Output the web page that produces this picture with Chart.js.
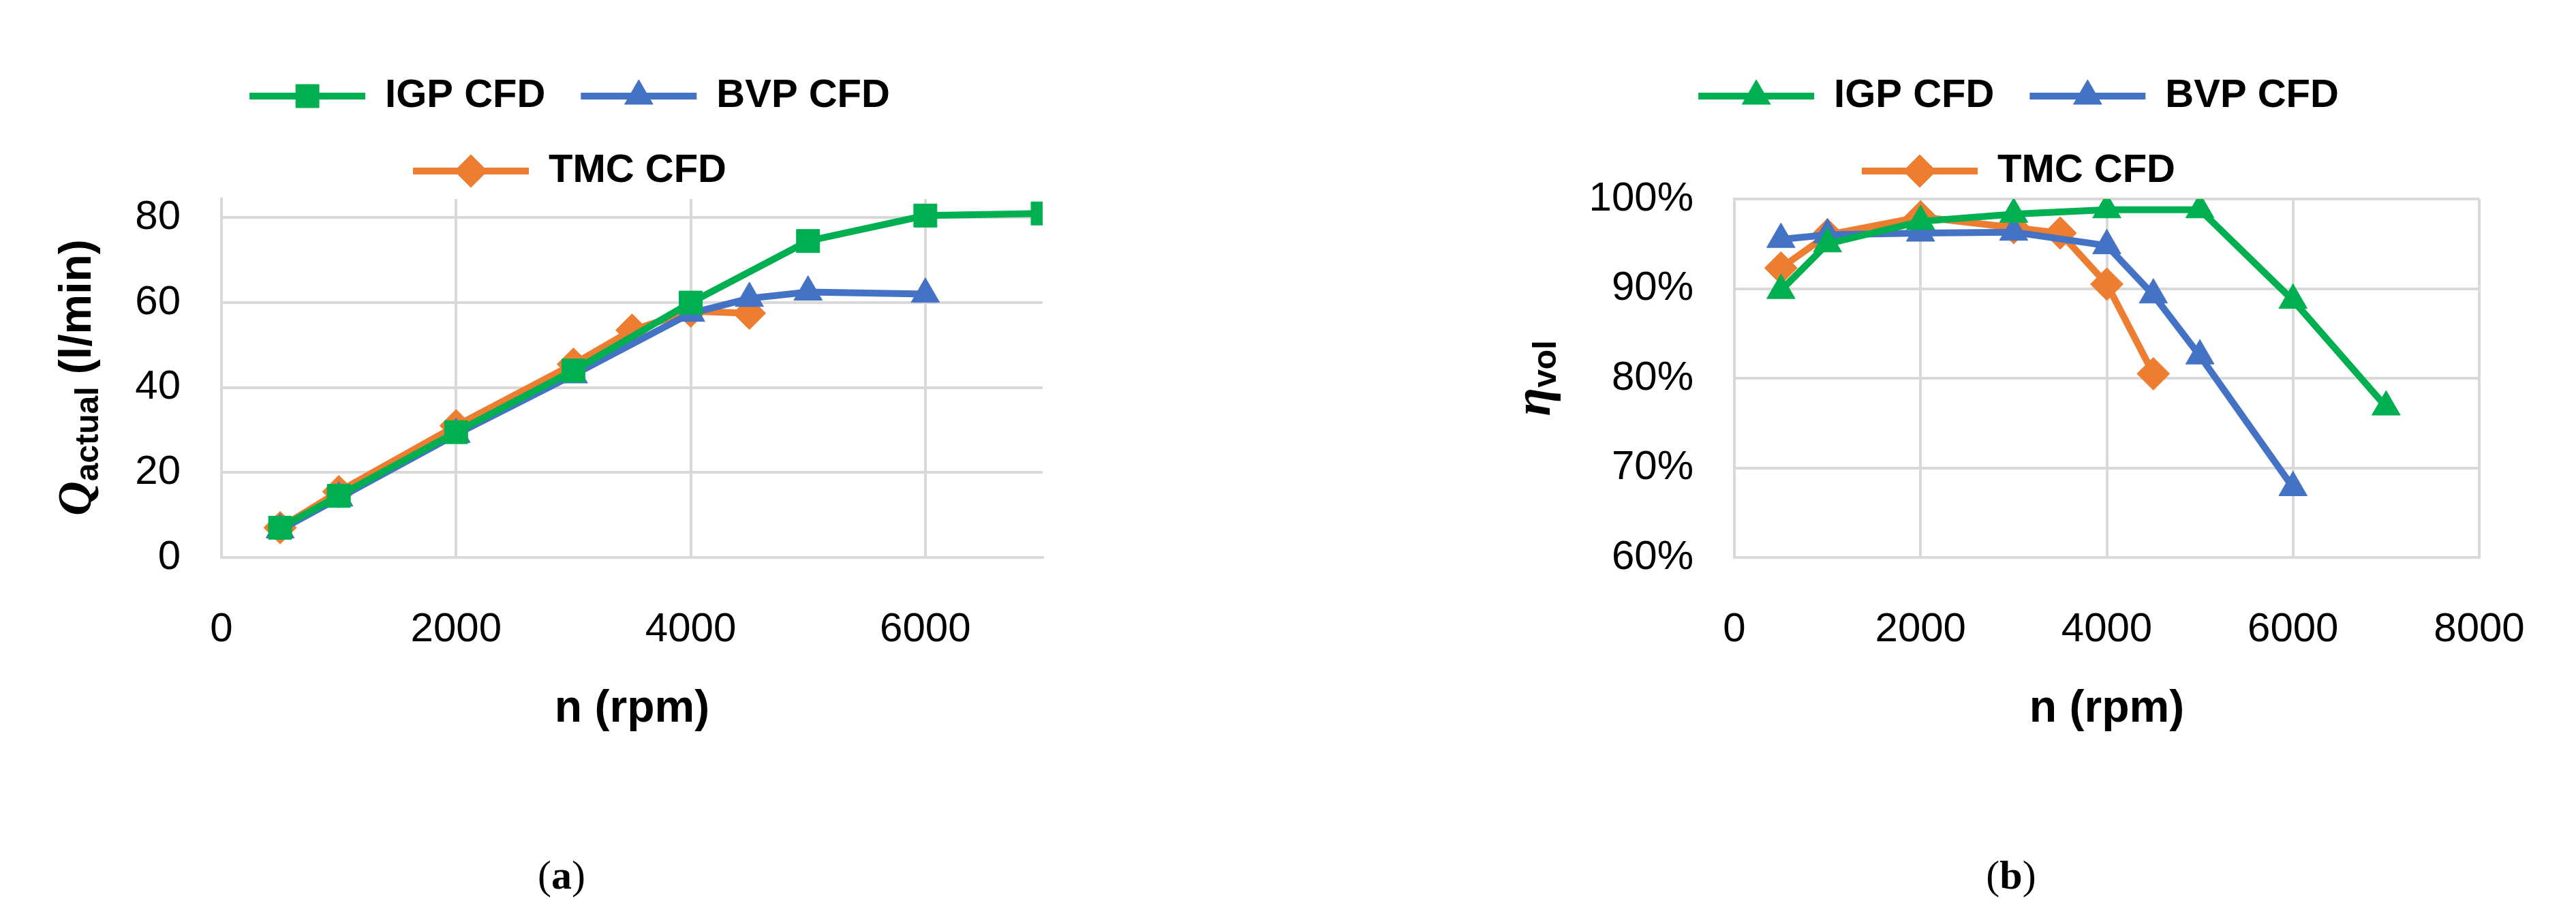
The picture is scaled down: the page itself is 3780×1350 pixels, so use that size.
<!DOCTYPE html>
<html><head><meta charset="utf-8">
<script src="https://cdn.jsdelivr.net/npm/chart.js@4.4.1/dist/chart.umd.min.js"></script>
<style>
body{margin:0;width:3780px;height:1350px;background:#fff;position:relative;overflow:hidden}
canvas{position:absolute;top:0}
.cap{position:absolute;top:1250px;font:60px "Liberation Serif","DejaVu Serif",serif;transform:translateX(-50%)}
</style></head><body>
<div id="wa" style="position:absolute;left:0;top:0;width:1672px;height:1150px"><canvas id="ca"></canvas></div>
<div id="wb" style="position:absolute;left:2144px;top:0;width:1636px;height:1150px"><canvas id="cb"></canvas></div>
<div class="cap" style="left:824px">(<b>a</b>)</div>
<div class="cap" style="left:2951px">(<b>b</b>)</div>
<script>
const seriesNames = ['IGP CFD','BVP CFD','TMC CFD'];
const colors = ['#00B050','#4472C4','#ED7D31'];

// (a) flow rate, l/min
const igpFlowRpm = [500,1000,2000,3000,4000,5000,6000,7000];
const igpFlow    = [7,14.5,29.5,44,60,74.5,80.5,81];
const bvpFlowRpm = [500,1000,2000,3000,4000,4500,5000,6000];
const bvpFlow    = [6.5,14,29,43,57.5,61,62.5,62];
const tmcFlowRpm = [500,1000,2000,3000,3500,4000,4500];
const tmcFlow    = [7,15.5,31,45.5,53.5,58,57.5];

// (b) volumetric efficiency, %
const igpEffRpm = [500,1000,2000,3000,4000,5000,6000,7000];
const igpEff    = [89.8,95,97.5,98.3,98.8,98.8,88.7,76.8];
const bvpEffRpm = [500,1000,2000,3000,4000,4500,5000,6000];
const bvpEff    = [95.5,96,96.2,96.3,94.8,89.3,82.5,67.8];
const tmcEffRpm = [500,1000,2000,3000,3500,4000,4500];
const tmcEff    = [92.3,96,98,96.8,96.2,90.5,80.5];

const flowTicks = [0,20,40,60,80];
const flowRpmTicks = [0,2000,4000,6000];
const effTicks = [60,70,80,90,100];
const effRpmTicks = [0,2000,4000,6000,8000];

const FONT = '"Liberation Sans Narrow","Liberation Sans",Arial,sans-serif';
Chart.defaults.font.family = FONT;
Chart.defaults.color = '#000';

const LEGEND_DX = 71;

function pts(xs,ys){return xs.map((x,i)=>({x,y:ys[i]}))}
function ds(i,data,style,r){
  return {label:seriesNames[i],data,borderColor:colors[i],backgroundColor:colors[i],
    borderWidth:10,pointStyle:style,pointRadius:r,pointHoverRadius:r,pointBorderWidth:1,tension:0};
}

// legend markers + y title
const extras = {
  id:'extras',
  beforeInit(chart){
    const lg = chart.legend;
    const fit = lg.fit;
    lg.fit = function(){fit.call(this);this.height = 232;};
    const draw = lg.draw;
    lg.draw = function(){
      const c = this.chart.ctx;
      c.save();c.translate(LEGEND_DX,0);draw.call(this);c.restore();
    };
  },
  afterDraw(chart,args,opts){
    const ctx = chart.ctx;
    const lg = chart.legend;
    lg.legendHitBoxes.forEach((b,i)=>{
      const d = chart.data.datasets[i];
      ctx.save();
      ctx.fillStyle = d.borderColor;
      ctx.strokeStyle = d.borderColor;
      ctx.lineWidth = 1;
      Chart.helpers.drawPoint(ctx,{pointStyle:d.pointStyle,radius:d.pointRadius,borderWidth:1,rotation:0},
        b.left+LEGEND_DX+85,b.top+b.height/2);
      ctx.restore();
    });
    // y title
    ctx.save();
    ctx.translate(opts.x,opts.y);
    ctx.rotate(-Math.PI/2);
    ctx.fillStyle='#000';
    ctx.textBaseline='middle';
    let w=0;
    opts.parts.forEach(p=>{ctx.font=p.f;w+=ctx.measureText(p.t).width});
    let x=-w/2;
    opts.parts.forEach(p=>{ctx.font=p.f;ctx.fillText(p.t,x,p.dy||0);x+=ctx.measureText(p.t).width});
    ctx.restore();
  }
};
Chart.register(extras);

function baseOpts(xTicks,yTicks,xmax,ymin,ymax,yW,fmt,title){
  return {
    responsive:true,maintainAspectRatio:false,animation:false,
    layout:{padding:{top:60,right:142,bottom:0,left:0}},
    plugins:{
      legend:{display:true,position:'top',
        labels:{usePointStyle:true,pointStyle:'line',pointStyleWidth:170,boxHeight:52,padding:52,
          font:{size:58,weight:'bold'},color:'#000',
          generateLabels(chart){return chart.data.datasets.map((d,i)=>({text:d.label,fillStyle:d.borderColor,strokeStyle:d.borderColor,lineWidth:10,pointStyle:'line',datasetIndex:i,fontColor:'#000'}))}}},
      tooltip:{enabled:false},
      extras:title
    },
    scales:{
      x:{type:'linear',min:0,max:xmax,
        afterBuildTicks(s){s.ticks=xTicks.map(v=>({value:v}))},
        afterFit(s){s.height=332},
        grid:{color:'#D9D9D9',lineWidth:4,drawTicks:false},
        border:{color:'#D9D9D9',width:4},
        ticks:{font:{size:60},padding:70,maxRotation:0,callback:v=>String(v)},
        title:{display:true,text:'n (rpm)',font:{size:66,weight:'bold'},padding:{top:40,bottom:70}}},
      y:{min:ymin,max:ymax,
        afterBuildTicks(s){s.ticks=yTicks.map(v=>({value:v}))},
        afterFit(s){s.width=yW},
        grid:{color:'#D9D9D9',lineWidth:4,drawTicks:false},
        border:{color:'#D9D9D9',width:4},
        ticks:{font:{size:60},padding:60,callback:fmt}}
    }
  };
}

new Chart(document.getElementById('ca'),{
  type:'line',
  data:{datasets:[
    ds(0,pts(igpFlowRpm,igpFlow),'rect',24),
    ds(1,pts(bvpFlowRpm,bvpFlow),'triangle',24),
    ds(2,pts(tmcFlowRpm,tmcFlow),'rectRot',24)]},
  options:baseOpts(flowRpmTicks,flowTicks,7000,0,84.4,325,v=>String(v),
    {x:115,y:554,parts:[
      {t:'Q',f:'italic bold 70px "Liberation Serif",serif'},
      {t:'actual',f:'bold 48px "Liberation Sans",sans-serif',dy:16},
      {t:' (l/min)',f:'bold 66px "Liberation Sans",sans-serif'}]})
});

new Chart(document.getElementById('cb'),{
  type:'line',
  data:{datasets:[
    ds(0,pts(igpEffRpm,igpEff),'triangle',24),
    ds(1,pts(bvpEffRpm,bvpEff),'triangle',24),
    ds(2,pts(tmcEffRpm,tmcEff),'rectRot',24)]},
  options:baseOpts(effRpmTicks,effTicks,8000,60,100,401,v=>v+'%',
    {x:110,y:555,parts:[
      {t:'η',f:'italic bold 76px "Liberation Serif",serif'},
      {t:'vol',f:'bold 48px "Liberation Sans",sans-serif',dy:16}]})
});
</script>
</body></html>
